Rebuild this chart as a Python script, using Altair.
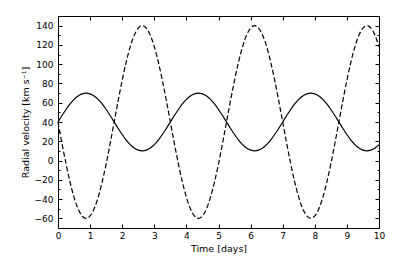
import altair as alt
import pandas as pd

times = [0.0, 0.125, 0.25, 0.375, 0.5, 0.625, 0.75, 0.875, 1.0, 1.125, 1.25, 1.375, 1.5, 1.625, 1.75, 1.875,
         2.0, 2.125, 2.25, 2.375, 2.5, 2.625, 2.75, 2.875, 3.0, 3.125, 3.25, 3.375, 3.5, 3.625, 3.75, 3.875,
         4.0, 4.125, 4.25, 4.375, 4.5, 4.625, 4.75, 4.875, 5.0, 5.125, 5.25, 5.375, 5.5, 5.625, 5.75, 5.875,
         6.0, 6.125, 6.25, 6.375, 6.5, 6.625, 6.75, 6.875, 7.0, 7.125, 7.25, 7.375, 7.5, 7.625, 7.75, 7.875,
         8.0, 8.125, 8.25, 8.375, 8.5, 8.625, 8.75, 8.875, 9.0, 9.125, 9.25, 9.375, 9.5, 9.625, 9.75, 9.875, 10.0]

solid_kms = [40.0, 46.7, 53.0, 58.7, 63.5, 67.0, 69.2, 70.0, 69.2, 67.0, 63.5, 58.7, 53.0, 46.7,
             40.0, 33.3, 27.0, 21.3, 16.5, 13.0, 10.8, 10.0, 10.8, 13.0, 16.5, 21.3, 27.0, 33.3,
             40.0, 46.7, 53.0, 58.7, 63.5, 67.0, 69.2, 70.0, 69.2, 67.0, 63.5, 58.7, 53.0, 46.7,
             40.0, 33.3, 27.0, 21.3, 16.5, 13.0, 10.8, 10.0, 10.8, 13.0, 16.5, 21.3, 27.0, 33.3,
             40.0, 46.7, 53.0, 58.7, 63.5, 67.0, 69.2, 70.0, 69.2, 67.0, 63.5, 58.7, 53.0, 46.7,
             40.0, 33.3, 27.0, 21.3, 16.5, 13.0, 10.8, 10.0, 10.8, 13.0, 16.5]

dashed_kms = [40.0, 17.7, -3.4, -22.3, -38.2, -50.1, -57.5, -60.0, -57.5, -50.1, -38.2, -22.3, -3.4, 17.7,
              40.0, 62.3, 83.4, 102.3, 118.2, 130.1, 137.5, 140.0, 137.5, 130.1, 118.2, 102.3, 83.4, 62.3,
              40.0, 17.7, -3.4, -22.3, -38.2, -50.1, -57.5, -60.0, -57.5, -50.1, -38.2, -22.3, -3.4, 17.7,
              40.0, 62.3, 83.4, 102.3, 118.2, 130.1, 137.5, 140.0, 137.5, 130.1, 118.2, 102.3, 83.4, 62.3,
              40.0, 17.7, -3.4, -22.3, -38.2, -50.1, -57.5, -60.0, -57.5, -50.1, -38.2, -22.3, -3.4, 17.7,
              40.0, 62.3, 83.4, 102.3, 118.2, 130.1, 137.5, 140.0, 137.5, 130.1, 118.2]

x_ticks = [0, 1, 2, 3, 4, 5, 6, 7, 8, 9, 10]
y_major = [-60, -40, -20, 0, 20, 40, 60, 80, 100, 120, 140]
y_minor = [-50, -30, -10, 10, 30, 50, 70, 90, 110, 130]

df = pd.DataFrame({"t": times, "solid": solid_kms, "dashed": dashed_kms})

FONT = "DejaVu Sans"
xscale = alt.Scale(domain=[0, 10], nice=False, zero=False)
yscale = alt.Scale(domain=[-70, 150], nice=False, zero=False)

common = dict(domain=False, grid=False, tickColor="black", tickWidth=1,
              labelColor="black", labelFont=FONT, labelFontSize=9, labelFlush=False,
              titleFont=FONT, titleFontSize=9.5, titleColor="black",
              titleFontWeight="normal")
minus = "replace(datum.label, '-', '\u2212')"

base = alt.Chart(df)

solid = base.mark_line(color="black", strokeWidth=1.2, interpolate="monotone").encode(
    x=alt.X("t:Q", scale=xscale,
            axis=alt.Axis(orient="bottom", values=x_ticks, format="d", tickSize=4, offset=-4,
                          labelPadding=3, title="Time [days]", titlePadding=3, **common)),
    y=alt.Y("solid:Q", scale=yscale,
            axis=alt.Axis(orient="left", values=y_major, format="d", tickSize=4, offset=-4,
                          labelPadding=5, labelExpr=minus,
                          title="Radial velocity [km s\u207b\u00b9]", titlePadding=4, **common)),
)

dashed = base.mark_line(color="black", strokeWidth=1.2, strokeDash=[5, 2.5],
                        interpolate="monotone").encode(
    x=alt.X("t:Q", scale=xscale,
            axis=alt.Axis(orient="top", values=x_ticks, tickSize=4, offset=-4,
                          labels=False, title=None, **common)),
    y=alt.Y("dashed:Q", scale=yscale,
            axis=alt.Axis(orient="right", values=y_major, tickSize=4, offset=-4,
                          labels=False, title=None, **common)),
)

minor_left = base.mark_point(opacity=0).encode(
    x=alt.X("t:Q", scale=xscale, axis=None),
    y=alt.Y("solid:Q", scale=yscale,
            axis=alt.Axis(orient="left", values=y_minor, tickSize=2, offset=-2,
                          labels=False, title=None, **common)),
)

minor_right = base.mark_point(opacity=0).encode(
    x=alt.X("t:Q", scale=xscale, axis=None),
    y=alt.Y("dashed:Q", scale=yscale,
            axis=alt.Axis(orient="right", values=y_minor, tickSize=2, offset=-2,
                          labels=False, title=None, **common)),
)

chart = alt.layer(solid, dashed, minor_left, minor_right).resolve_axis(
    x="independent", y="independent"
).properties(
    width=321, height=212,
    autosize=alt.AutoSizeParams(type="none"),
    padding={"left": 58, "top": 16, "right": 16, "bottom": 40},
    background="white",
).configure_view(stroke="black", strokeWidth=1)

chart.save("out.html", embed_options={"renderer": "svg", "actions": False})
